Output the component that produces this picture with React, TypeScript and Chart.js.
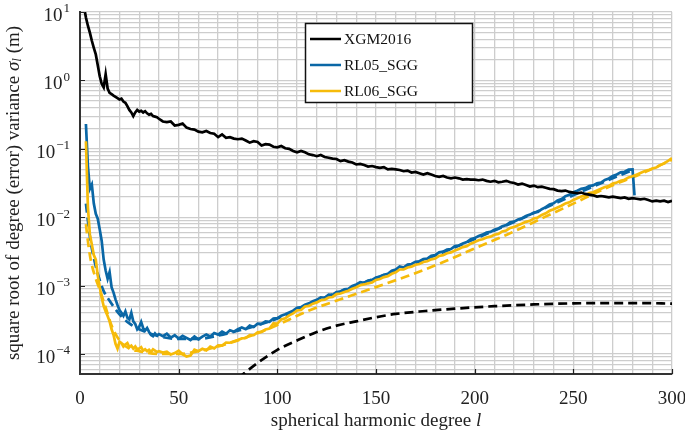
import React, { useEffect, useRef } from 'react';
import { Chart, registerables } from 'chart.js';

Chart.register(...registerables);

const FONT = "'Liberation Serif', 'DejaVu Serif', serif";

// ---- data: [degree l, value (m)] ----
const xgm2016: [number, number][] = [
  [2, 12], [3, 8.3], [4, 6.3], [5, 5.0], [6, 3.8], [7, 3.0], [8, 2.4], [9, 1.66], [10, 1.15], [11, 0.89],
  [12, 0.79], [13, 1.23], [14, 0.76], [15, 0.66], [16, 0.63], [17, 0.6], [18, 0.575], [19, 0.55], [20, 0.525],
  [21, 0.54], [22, 0.49], [23, 0.47], [24, 0.42], [25, 0.37], [26, 0.34], [27, 0.3], [28, 0.34], [29, 0.37],
  [30, 0.35], [31, 0.36], [32, 0.34], [33, 0.355], [34, 0.33], [35, 0.316], [36, 0.324], [37, 0.3], [38, 0.295],
  [39, 0.29], [40, 0.275], [42, 0.251], [44, 0.245], [46, 0.251], [48, 0.219], [50, 0.224], [52, 0.234],
  [54, 0.204], [56, 0.195], [58, 0.191], [60, 0.178], [62, 0.174], [64, 0.182], [66, 0.17], [68, 0.166],
  [70, 0.148], [72, 0.162], [74, 0.145], [76, 0.148], [78, 0.141], [80, 0.138], [82, 0.141], [84, 0.132],
  [86, 0.123], [88, 0.129], [90, 0.126], [92, 0.112], [94, 0.117], [96, 0.115], [98, 0.107], [100, 0.105],
  [102, 0.11], [104, 0.102], [106, 0.1], [108, 0.093], [110, 0.089], [112, 0.093], [114, 0.089], [116, 0.083],
  [118, 0.081], [120, 0.078], [122, 0.081], [124, 0.076], [126, 0.074], [128, 0.072], [130, 0.071], [132, 0.066],
  [134, 0.068], [136, 0.065], [138, 0.063], [140, 0.059], [142, 0.06], [144, 0.058], [146, 0.055], [148, 0.056],
  [150, 0.054], [152, 0.0525], [154, 0.054], [156, 0.05], [158, 0.051], [160, 0.05], [162, 0.049], [164, 0.047],
  [166, 0.048], [168, 0.045], [170, 0.046], [172, 0.044], [174, 0.042], [176, 0.044], [178, 0.042], [180, 0.04],
  [182, 0.039], [184, 0.04], [186, 0.038], [188, 0.037], [190, 0.038], [192, 0.037], [194, 0.0355], [196, 0.036],
  [198, 0.0355], [200, 0.0355], [202, 0.0347], [204, 0.0355], [206, 0.034], [208, 0.033], [210, 0.034],
  [212, 0.0324], [214, 0.033], [216, 0.034], [218, 0.0324], [220, 0.0316], [222, 0.03], [224, 0.031],
  [226, 0.0295], [228, 0.028], [230, 0.029], [232, 0.0275], [234, 0.028], [236, 0.027], [238, 0.026],
  [240, 0.0257], [242, 0.0245], [244, 0.024], [246, 0.0245], [248, 0.0234], [250, 0.0229], [252, 0.0224],
  [254, 0.0229], [256, 0.0219], [258, 0.0214], [260, 0.0209], [262, 0.02], [264, 0.0204], [266, 0.02],
  [268, 0.0195], [270, 0.02], [272, 0.0195], [274, 0.019], [276, 0.0195], [278, 0.0186], [280, 0.019],
  [282, 0.0186], [284, 0.0182], [286, 0.0186], [288, 0.0178], [290, 0.017], [292, 0.0174], [294, 0.017],
  [296, 0.0174], [298, 0.0166], [300, 0.0174],
];

const rl05Sgg: [number, number][] = [
  [3, 0.23], [4, 0.056], [5, 0.026], [6, 0.03], [7, 0.0158], [8, 0.0112], [9, 0.0095], [10, 0.0066],
  [11, 0.0045], [12, 0.0024], [13, 0.00166], [14, 0.00126], [15, 0.00158], [16, 0.00095], [17, 0.00079],
  [18, 0.00063], [19, 0.00052], [20, 0.00044], [21, 0.0004], [22, 0.00036], [23, 0.00042], [24, 0.00034],
  [25, 0.00032], [26, 0.0004], [27, 0.0003], [28, 0.000275], [29, 0.00023], [30, 0.00025], [31, 0.000295],
  [32, 0.00024], [33, 0.00022], [34, 0.00024], [35, 0.00021], [36, 0.00019], [37, 0.000182], [38, 0.0002],
  [39, 0.000186], [40, 0.000195],
  [42, 1.82e-4], [44, 1.98e-4], [46, 1.74e-4], [48, 1.88e-4], [50, 1.68e-4], [52, 1.84e-4], [54, 1.72e-4],
  [56, 1.6e-4], [58, 1.8e-4], [60, 1.64e-4], [62, 1.8e-4], [64, 1.93e-4], [66, 1.8e-4], [68, 2.02e-4],
  [70, 1.92e-4], [72, 2.12e-4], [74, 1.98e-4], [76, 2.22e-4], [78, 2.12e-4], [80, 2.3e-4], [82, 2.44e-4],
  [84, 2.3e-4], [86, 2.6e-4], [88, 2.48e-4], [90, 2.78e-4], [92, 2.76e-4], [94, 3.0e-4], [96, 2.96e-4],
  [98, 3.3e-4], [100, 3.35e-4], [102, 3.62e-4], [104, 3.8e-4], [106, 4.05e-4], [108, 4.3e-4], [110, 4.75e-4],
  [112, 4.85e-4], [114, 5.25e-4], [116, 5.5e-4], [118, 5.9e-4], [120, 6.2e-4], [122, 6.75e-4], [124, 6.65e-4],
  [126, 7.35e-4], [128, 7.3e-4], [130, 8.05e-4], [132, 8.2e-4], [134, 8.85e-4], [136, 9.0e-4], [138, 9.9e-4],
  [140, 1.04e-3], [142, 1.12e-3], [144, 1.1e-3], [146, 1.19e-3], [148, 1.21e-3], [150, 1.31e-3], [152, 1.36e-3],
  [154, 1.44e-3], [156, 1.49e-3], [158, 1.65e-3], [160, 1.72e-3], [162, 1.9e-3], [164, 1.84e-3], [166, 2.03e-3],
  [168, 2.07e-3], [170, 2.22e-3], [172, 2.27e-3], [174, 2.44e-3], [176, 2.48e-3], [178, 2.73e-3], [180, 2.79e-3],
  [182, 3.06e-3], [184, 3.13e-3], [186, 3.36e-3], [188, 3.43e-3], [190, 3.78e-3], [192, 3.85e-3], [194, 4.13e-3],
  [196, 4.32e-3], [198, 4.75e-3], [200, 4.95e-3], [202, 5.32e-3], [204, 5.56e-3], [206, 5.97e-3], [208, 6.1e-3],
  [210, 6.55e-3], [212, 6.85e-3], [214, 7.35e-3], [216, 7.68e-3], [218, 8.45e-3], [220, 8.62e-3], [222, 9.25e-3],
  [224, 9.68e-3], [226, 1.04e-2], [228, 1.09e-2], [230, 1.17e-2], [232, 1.19e-2], [234, 1.31e-2], [236, 1.4e-2],
  [238, 1.53e-2], [240, 1.6e-2], [242, 1.76e-2], [244, 1.84e-2], [246, 2.03e-2], [248, 2.12e-2], [250, 2.32e-2],
  [252, 2.43e-2], [254, 2.6e-2], [256, 2.66e-2], [258, 2.85e-2], [260, 2.92e-2], [262, 3.12e-2], [264, 3.2e-2],
  [266, 3.5e-2], [268, 3.68e-2], [270, 4.02e-2], [272, 4.22e-2], [274, 4.52e-2], [276, 4.62e-2], [278, 4.95e-2],
  [280, 4.98e-2], [281, 2.09e-2],
];

const rl06Sgg: [number, number][] = [
  [3, 0.129], [4, 0.0141], [5, 0.0056], [6, 0.004], [7, 0.0028], [8, 0.0024], [9, 0.0014], [10, 9.5e-4],
  [11, 6.6e-4], [12, 5.0e-4], [13, 4.2e-4], [14, 3.6e-4], [15, 3.0e-4], [16, 2.3e-4], [17, 1.9e-4], [18, 1.41e-4],
  [19, 1.2e-4], [20, 1.51e-4], [21, 1.45e-4], [22, 1.29e-4], [23, 1.38e-4], [24, 1.45e-4], [25, 1.26e-4],
  [26, 1.32e-4], [27, 1.2e-4], [28, 1.29e-4], [29, 1.17e-4], [30, 1.2e-4], [31, 1.26e-4], [32, 1.12e-4],
  [33, 1.17e-4], [34, 1.1e-4], [35, 1.15e-4], [36, 1.07e-4], [37, 1.17e-4], [38, 1.12e-4], [39, 1.07e-4],
  [40, 1.1e-4],
  [42, 1.05e-4], [44, 1.08e-4], [46, 0.98e-4], [48, 1.03e-4], [50, 1.12e-4], [52, 0.99e-4], [54, 0.92e-4],
  [56, 0.95e-4], [58, 1.16e-4], [60, 1.1e-4], [62, 1.19e-4], [64, 1.13e-4], [66, 1.28e-4], [68, 1.21e-4],
  [70, 1.34e-4], [72, 1.33e-4], [74, 1.47e-4], [76, 1.46e-4], [78, 1.54e-4], [80, 1.6e-4], [82, 1.69e-4],
  [84, 1.71e-4], [86, 1.89e-4], [88, 1.88e-4], [90, 2.07e-4], [92, 2.1e-4], [94, 2.28e-4], [96, 2.36e-4],
  [98, 2.8e-4], [100, 2.78e-4], [102, 3.2e-4], [104, 3.34e-4], [106, 3.68e-4], [108, 3.92e-4], [110, 4.32e-4],
  [112, 4.4e-4], [114, 4.96e-4], [116, 5.05e-4], [118, 5.45e-4], [120, 5.68e-4], [122, 6.1e-4], [124, 6.22e-4],
  [126, 6.7e-4], [128, 6.82e-4], [130, 7.5e-4], [132, 7.65e-4], [134, 8.05e-4], [136, 8.4e-4], [138, 9.0e-4],
  [140, 9.45e-4], [142, 1.01e-3], [144, 1.04e-3], [146, 1.08e-3], [148, 1.11e-3], [150, 1.21e-3], [152, 1.25e-3],
  [154, 1.33e-3], [156, 1.37e-3], [158, 1.49e-3], [160, 1.56e-3], [162, 1.72e-3], [164, 1.72e-3], [166, 1.84e-3],
  [168, 1.89e-3], [170, 2.02e-3], [172, 2.07e-3], [174, 2.21e-3], [176, 2.27e-3], [178, 2.42e-3], [180, 2.49e-3],
  [182, 2.71e-3], [184, 2.79e-3], [186, 2.97e-3], [188, 3.06e-3], [190, 3.26e-3], [192, 3.44e-3], [194, 3.65e-3],
  [196, 3.77e-3], [198, 4.1e-3], [200, 4.33e-3], [202, 4.6e-3], [204, 4.75e-3], [206, 5.04e-3], [208, 5.2e-3],
  [210, 5.53e-3], [212, 5.7e-3], [214, 6.2e-3], [216, 6.4e-3], [218, 6.96e-3], [220, 7.18e-3], [222, 7.63e-3],
  [224, 8.06e-3], [226, 8.55e-3], [228, 8.85e-3], [230, 9.6e-3], [232, 9.92e-3], [234, 1.08e-2], [236, 1.14e-2],
  [238, 1.24e-2], [240, 1.31e-2], [242, 1.39e-2], [244, 1.47e-2], [246, 1.59e-2], [248, 1.65e-2], [250, 1.79e-2],
  [252, 1.89e-2], [254, 2.01e-2], [256, 2.08e-2], [258, 2.25e-2], [260, 2.32e-2], [262, 2.46e-2], [264, 2.61e-2],
  [266, 2.76e-2], [268, 2.86e-2], [270, 3.1e-2], [272, 3.22e-2], [274, 3.4e-2], [276, 3.53e-2], [278, 3.82e-2],
  [280, 3.96e-2], [282, 4.19e-2], [284, 4.44e-2], [286, 4.7e-2], [288, 4.87e-2], [290, 5.15e-2], [292, 5.34e-2],
  [294, 5.78e-2], [296, 6.12e-2], [298, 6.65e-2], [300, 7.3e-2],
];

// dashed (model / formal error) curves
const xgmDashed: [number, number][] = [
  [80, 4.4e-5], [90, 7.4e-5], [100, 1.15e-4], [110, 1.58e-4], [120, 2.1e-4], [130, 2.6e-4], [140, 3.0e-4],
  [150, 3.45e-4], [160, 3.85e-4], [175, 4.25e-4], [190, 4.6e-4], [210, 5.0e-4], [230, 5.3e-4], [250, 5.5e-4],
  [270, 5.55e-4], [285, 5.55e-4], [300, 5.45e-4],
];

const rl05Dashed: [number, number][] = [
  [3, 0.0158], [4, 0.0089], [5, 0.0052], [6, 0.0035], [8, 0.0019], [10, 0.0012], [12, 8.3e-4], [15, 6.0e-4],
  [18, 4.5e-4], [20, 3.8e-4], [25, 2.8e-4], [30, 2.3e-4], [40, 1.82e-4], [50, 1.66e-4], [60, 1.66e-4],
  [70, 1.86e-4], [80, 2.19e-4], [90, 2.63e-4], [100, 3.31e-4], [120, 6.0e-4], [140, 1.0e-3], [160, 1.66e-3],
  [180, 2.75e-3], [200, 4.8e-3], [220, 8.5e-3], [240, 1.55e-2], [260, 2.8e-2], [280, 4.9e-2],
];

const rl06Dashed: [number, number][] = [
  [3, 7.9e-3], [4, 4.5e-3], [5, 2.8e-3], [6, 2.0e-3], [8, 1.26e-3], [10, 8.7e-4], [13, 4.8e-4], [16, 2.6e-4],
  [20, 1.58e-4], [25, 1.2e-4], [30, 1.1e-4], [40, 1.0e-4], [50, 1.0e-4], [60, 1.1e-4], [70, 1.29e-4],
  [81, 1.62e-4], [98, 2.5e-4], [115, 4.2e-4], [132, 6.3e-4], [149, 9.3e-4], [166, 1.38e-3], [183, 2.14e-3],
  [199, 3.4e-3], [216, 5.5e-3], [233, 9.3e-3], [250, 1.58e-2], [267, 2.7e-2], [284, 4.27e-2], [300, 6.9e-2],
];

const seriesLabels = ['XGM2016', 'RL05_SGG', 'RL06_SGG'];
const seriesColors = ['#000000', '#0a67a6', '#f6bb0a'];

const xRange = [0, 300];
const xLabelEvery = 50;
const yRange = [5.1e-5, 10];
const yDecades = [1, 0, -1, -2, -3, -4];

const toXY = (arr: [number, number][]) => arr.map(([x, y]) => ({ x, y }));

const decorPlugin = {
  id: 'decor',
  afterDraw(chart: any) {
    const { ctx, chartArea: a, scales } = chart;
    const xs = scales.x;
    const ys = scales.y;
    ctx.save();

    // inward tick marks
    ctx.strokeStyle = '#222';
    ctx.lineWidth = 1.2;
    ctx.beginPath();
    for (let v = xRange[0] + xLabelEvery; v <= xRange[1]; v += xLabelEvery) {
      const px = Math.round(xs.getPixelForValue(v)) + 0.5;
      ctx.moveTo(px, a.bottom);
      ctx.lineTo(px, a.bottom - 5);
    }
    for (const e of yDecades) {
      const py = Math.round(ys.getPixelForValue(Math.pow(10, e))) + 0.5;
      ctx.moveTo(a.left, py);
      ctx.lineTo(a.left + 5, py);
    }
    ctx.stroke();

    // y tick labels 10^e
    ctx.fillStyle = '#222';
    ctx.textBaseline = 'middle';
    ctx.textAlign = 'left';
    for (const e of yDecades) {
      const py = ys.getPixelForValue(Math.pow(10, e));
      const expText = e < 0 ? '\u2212' + Math.abs(e) : String(e);
      ctx.font = `13px ${FONT}`;
      const ew = ctx.measureText(expText).width;
      ctx.font = `19px ${FONT}`;
      const bw = ctx.measureText('10').width;
      const right = a.left - 10;
      const x0 = right - ew - bw - 1;
      ctx.fillText('10', x0, py + 4);
      ctx.font = `13px ${FONT}`;
      ctx.fillText(expText, x0 + bw + 1, py - 3);
    }

    // x-axis title
    {
      const parts = [
        { t: 'spherical harmonic degree ', f: `19px ${FONT}` },
        { t: 'l', f: `italic 19px ${FONT}` },
      ];
      let total = 0;
      for (const p of parts) { ctx.font = p.f; total += ctx.measureText(p.t).width; }
      let x = (a.left + a.right) / 2 - total / 2;
      const y = 421;
      for (const p of parts) { ctx.font = p.f; ctx.fillText(p.t, x, y); x += ctx.measureText(p.t).width; }
    }

    // y-axis title (rotated)
    {
      ctx.save();
      ctx.translate(14, 193);
      ctx.rotate(-Math.PI / 2);
      const parts = [
        { t: 'square root of degree (error) variance ', f: `19px ${FONT}`, dy: 0 },
        { t: '\u03c3', f: `italic 19px ${FONT}`, dy: 0 },
        { t: 'l', f: `italic 13px ${FONT}`, dy: 4 },
        { t: ' (m)', f: `19px ${FONT}`, dy: 0 },
      ];
      let total = 0;
      for (const p of parts) { ctx.font = p.f; total += ctx.measureText(p.t).width; }
      let x = -total / 2;
      for (const p of parts) { ctx.font = p.f; ctx.fillText(p.t, x, p.dy); x += ctx.measureText(p.t).width; }
      ctx.restore();
    }

    // legend
    {
      const bx = 305.5, by = 23.5, bw = 167, bh = 79;
      ctx.fillStyle = '#ffffff';
      ctx.fillRect(bx, by, bw, bh);
      ctx.strokeStyle = '#111';
      ctx.lineWidth = 1.5;
      ctx.strokeRect(bx, by, bw, bh);
      const rows = [39, 65, 91];
      ctx.font = `15.5px ${FONT}`;
      ctx.textBaseline = 'middle';
      seriesLabels.forEach((lab, i) => {
        ctx.strokeStyle = seriesColors[i];
        ctx.lineWidth = 2.5;
        ctx.beginPath();
        ctx.moveTo(310, rows[i]);
        ctx.lineTo(341, rows[i]);
        ctx.stroke();
        ctx.fillStyle = '#111';
        ctx.fillText(lab, 344, rows[i] + 1);
      });
    }

    ctx.restore();
  },
};

export default function App() {
  const canvasRef = useRef<HTMLCanvasElement | null>(null);

  useEffect(() => {
    const canvas = canvasRef.current;
    if (!canvas) return;

    const solid = (data: [number, number][], color: string, order: number, label: string) => ({
      label,
      data: toXY(data),
      borderColor: color,
      backgroundColor: color,
      borderWidth: 2.7,
      pointRadius: 0,
      tension: 0,
      fill: false,
      order,
    });
    const dashed = (data: [number, number][], color: string, order: number, label: string) => ({
      label,
      data: toXY(data),
      borderColor: color,
      backgroundColor: color,
      borderWidth: 2.7,
      borderDash: [9, 5],
      pointRadius: 0,
      cubicInterpolationMode: 'monotone' as const,
      fill: false,
      order,
    });

    const chart = new Chart(canvas, {
      type: 'line',
      data: {
        datasets: [
          solid(xgm2016, seriesColors[0], 0, seriesLabels[0]),
          solid(rl05Sgg, seriesColors[1], 2, seriesLabels[1]),
          solid(rl06Sgg, seriesColors[2], 1, seriesLabels[2]),
          dashed(xgmDashed, seriesColors[0], 3, 'XGM2016 (model)'),
          dashed(rl05Dashed, seriesColors[1], 5, 'RL05_SGG (model)'),
          dashed(rl06Dashed, seriesColors[2], 4, 'RL06_SGG (model)'),
        ],
      },
      options: {
        animation: false,
        responsive: true,
        maintainAspectRatio: false,
        parsing: false as any,
        normalized: true,
        layout: { padding: { top: 12, right: 13, left: 0, bottom: 0 } },
        plugins: { legend: { display: false }, tooltip: { enabled: false } },
        scales: {
          x: {
            type: 'linear',
            min: xRange[0],
            max: xRange[1],
            ticks: {
              stepSize: 10,
              autoSkip: false,
              maxRotation: 0,
              padding: 14,
              color: '#222',
              font: { family: FONT, size: 19 },
              callback: (v: any) => (Number(v) % xLabelEvery === 0 ? String(v) : ''),
            },
            grid: { color: '#cdcdcd', lineWidth: 1.3, drawTicks: false },
            border: { display: true, color: '#333', width: 2 },
            afterFit: (s: any) => { s.height = 58; s.paddingLeft = 0; s.paddingRight = 0; },
          },
          y: {
            type: 'logarithmic',
            min: yRange[0],
            max: yRange[1],
            ticks: { display: false, autoSkip: false },
            afterBuildTicks: (s: any) => {
              const t: { value: number }[] = [];
              for (let e = -5; e <= 1; e++) {
                for (let m = 1; m <= 9; m++) {
                  const v = m * Math.pow(10, e);
                  if (v >= yRange[0] * 0.999 && v <= yRange[1] * 1.001) t.push({ value: v });
                }
              }
              s.ticks = t;
            },
            grid: { color: '#cdcdcd', lineWidth: 1.3, drawTicks: false },
            border: { display: true, color: '#333', width: 2 },
            afterFit: (s: any) => { s.width = 80; s.paddingTop = 0; s.paddingBottom = 0; },
          },
        },
      },
      plugins: [decorPlugin],
    } as any);

    return () => chart.destroy();
  }, []);

  return (
    <div style={{ position: 'fixed', left: 0, top: 0, width: 685, height: 432, background: '#fff' }}>
      <canvas ref={canvasRef} />
    </div>
  );
}
